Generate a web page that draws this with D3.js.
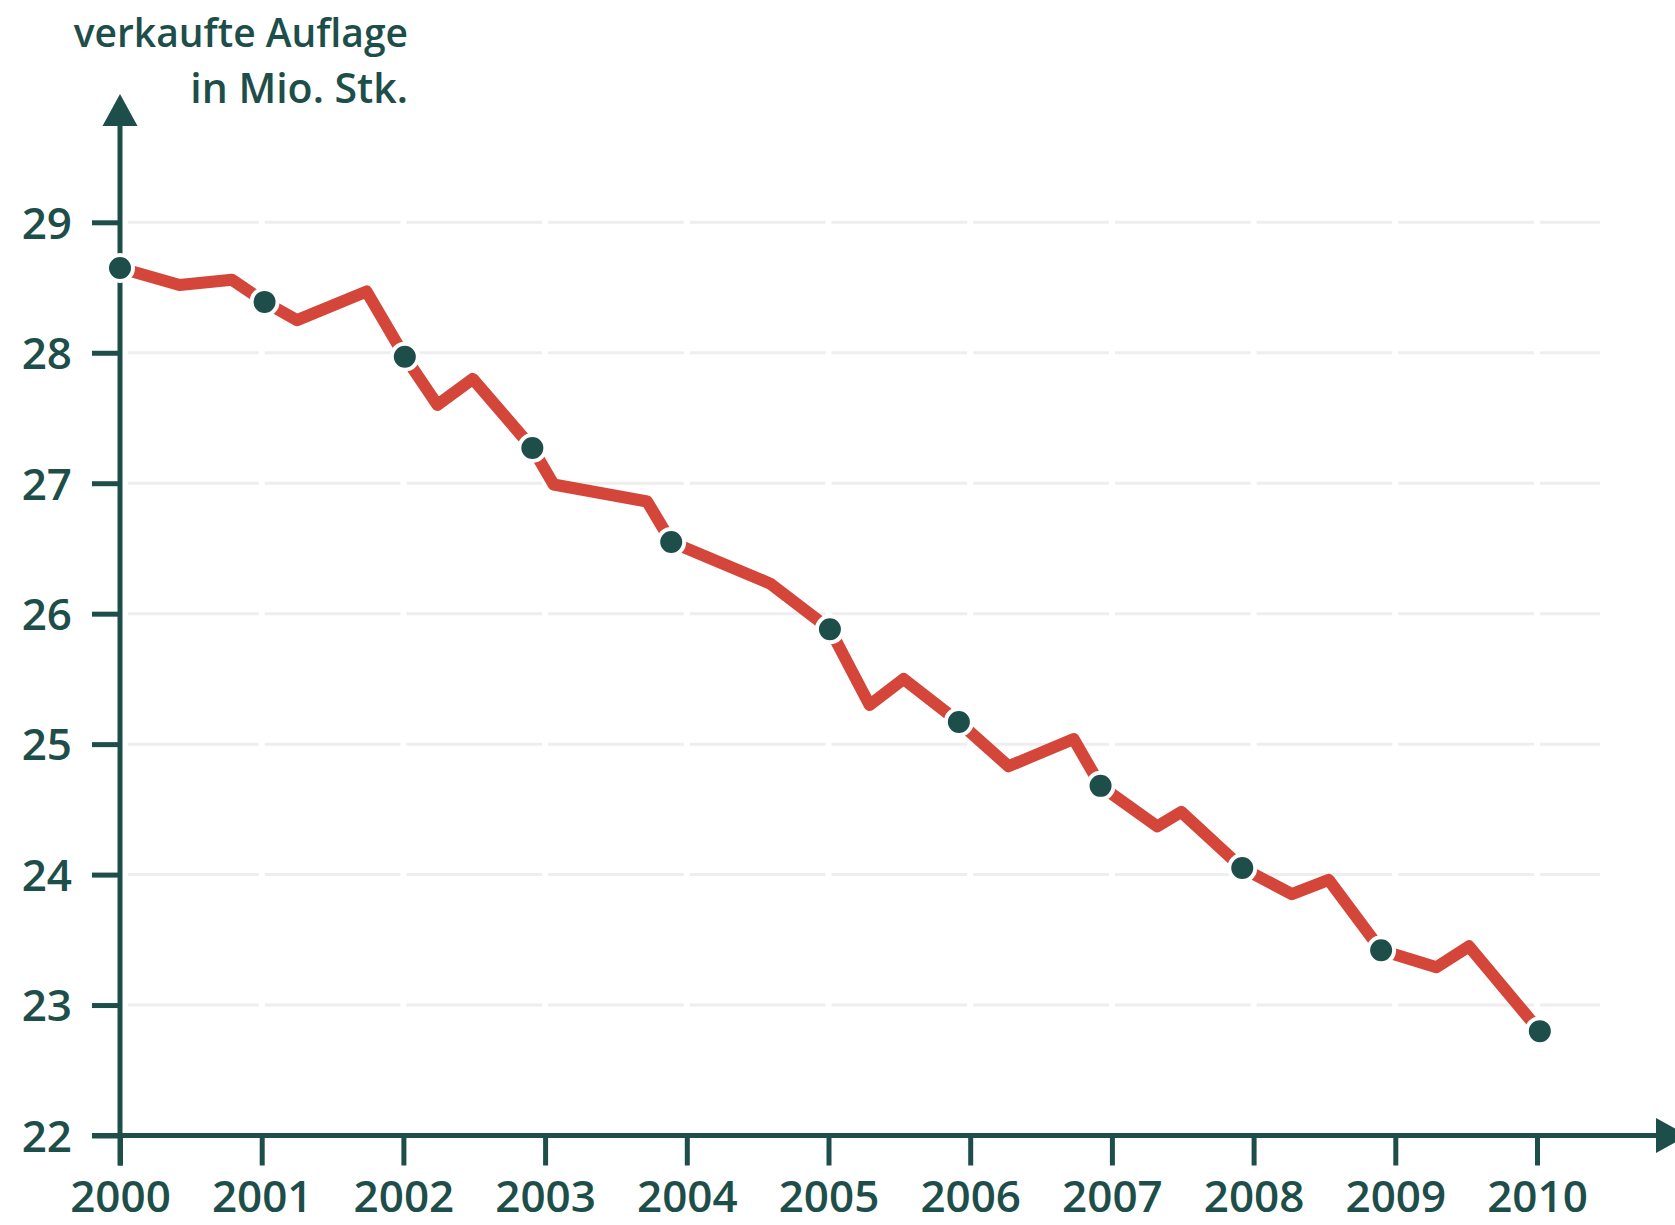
<!DOCTYPE html>
<html>
<head>
<meta charset="utf-8">
<script src="https://cdn.jsdelivr.net/npm/d3@7"></script>
<style>
  body { margin: 0; background: #fff; }
  text { font-family: "Open Sans", sans-serif; font-weight: 600; fill: #1e4e4a; }
</style>
</head>
<body>
<div id="chart"></div>
<script>
// Data (x in decimal years, value in Mio. Stk.)
const periods = [2000.00, 2000.42, 2000.79, 2001.02, 2001.25, 2001.74, 2002.01, 2002.24, 2002.49, 2002.91,
                 2003.06, 2003.72, 2003.89, 2004.59, 2005.01, 2005.29, 2005.53, 2005.92, 2006.27, 2006.73,
                 2006.92, 2007.32, 2007.49, 2007.92, 2008.27, 2008.53, 2008.90, 2009.29, 2009.52, 2010.02];
const values = [28.65, 28.52, 28.56, 28.39, 28.25, 28.47, 27.97, 27.60, 27.80, 27.27,
                26.99, 26.86, 26.55, 26.23, 25.88, 25.30, 25.50, 25.17, 24.83, 25.04,
                24.68, 24.37, 24.48, 24.05, 23.85, 23.96, 23.42, 23.29, 23.45, 22.80];
// points that get a dot (one per year)
const markerIdx = [0, 3, 6, 9, 12, 14, 17, 20, 23, 26, 29];
const years = d3.range(2000, 2011);
const yTicks = [22, 23, 24, 25, 26, 27, 28, 29];
const titleLines = ["verkaufte Auflage", "in Mio. Stk."];

const W = 1675, H = 1225;
const dark = "#1e4e4a", red = "#d4463a";

const svg = d3.select("#chart")
  .append("svg")
  .attr("width", W)
  .attr("height", H);

const x = d3.scaleLinear().domain([2000, 2010]).range([120, 1537]);
const y = d3.scaleLinear().domain([22, 29]).range([1135.5, 222.3]);

// gridlines, broken slightly at each year
const grid = svg.append("g");
yTicks.filter(v => v > 22).forEach(v => {
  years.forEach((yr, i) => {
    const x0 = i === 0 ? 128 : x(yr) + 3;
    const x1 = i === years.length - 1 ? 1600 : x(yr + 1) - 3;
    grid.append("line")
      .attr("x1", x0).attr("x2", x1)
      .attr("y1", y(v)).attr("y2", y(v))
      .attr("stroke", "#eeeeee")
      .attr("stroke-width", 3);
  });
});

// y axis
const yAxis = svg.append("g").attr("transform", `translate(${x(2000)},0)`);
yAxis.call(d3.axisLeft(y).tickValues(yTicks).tickSize(28).tickPadding(20).tickFormat(d3.format("d")));
yAxis.select(".domain").remove();
yAxis.selectAll(".tick line").attr("stroke", dark).attr("stroke-width", 5);
yAxis.selectAll(".tick text")
  .attr("font-size", 44).attr("font-family", null).attr("dy", "0.36em")
  .style("fill", dark);

// x axis
const xAxis = svg.append("g").attr("transform", `translate(0,${y(22)})`);
xAxis.call(d3.axisBottom(x).tickValues(years).tickSize(30).tickPadding(15).tickFormat(d3.format("d")));
xAxis.select(".domain").remove();
xAxis.selectAll(".tick line").attr("stroke", dark).attr("stroke-width", 5);
xAxis.selectAll(".tick text")
  .attr("font-size", 44).attr("font-family", null)
  .style("fill", dark);

// axis lines with arrows
svg.append("line")
  .attr("x1", x(2000)).attr("x2", x(2000))
  .attr("y1", y(22) + 30).attr("y2", 120)
  .attr("stroke", dark).attr("stroke-width", 5);
svg.append("path")
  .attr("d", `M${x(2000) - 17.5},126 L${x(2000)},94 L${x(2000) + 17.5},126 Z`)
  .attr("fill", dark);

svg.append("line")
  .attr("x1", 92).attr("x2", 1662)
  .attr("y1", y(22)).attr("y2", y(22))
  .attr("stroke", dark).attr("stroke-width", 5);
svg.append("path")
  .attr("d", `M1656,${y(22) - 17.5} L1688,${y(22)} L1656,${y(22) + 17.5} Z`)
  .attr("fill", dark);

// title
svg.append("text")
  .attr("text-anchor", "end")
  .attr("font-size", 40)
  .selectAll("tspan")
  .data(titleLines)
  .join("tspan")
  .attr("x", 408)
  .attr("y", (d, i) => 47 + i * 56)
  .attr("font-size", (d, i) => i === 0 ? 39 : 41)
  .text(d => d);

// data line
const pts = periods.map((p, i) => ({ p, v: values[i] }));
const line = d3.line().x(d => x(d.p)).y(d => y(d.v));
svg.append("path")
  .datum(pts)
  .attr("fill", "none")
  .attr("stroke", red)
  .attr("stroke-width", 12)
  .attr("stroke-linejoin", "round")
  .attr("d", line);

// year dots
svg.append("g")
  .selectAll("circle")
  .data(markerIdx.map(i => pts[i]))
  .join("circle")
  .attr("cx", d => x(d.p))
  .attr("cy", d => y(d.v))
  .attr("r", 13)
  .attr("fill", dark)
  .attr("stroke", "#fff")
  .attr("stroke-width", 4);
</script>
</body>
</html>
